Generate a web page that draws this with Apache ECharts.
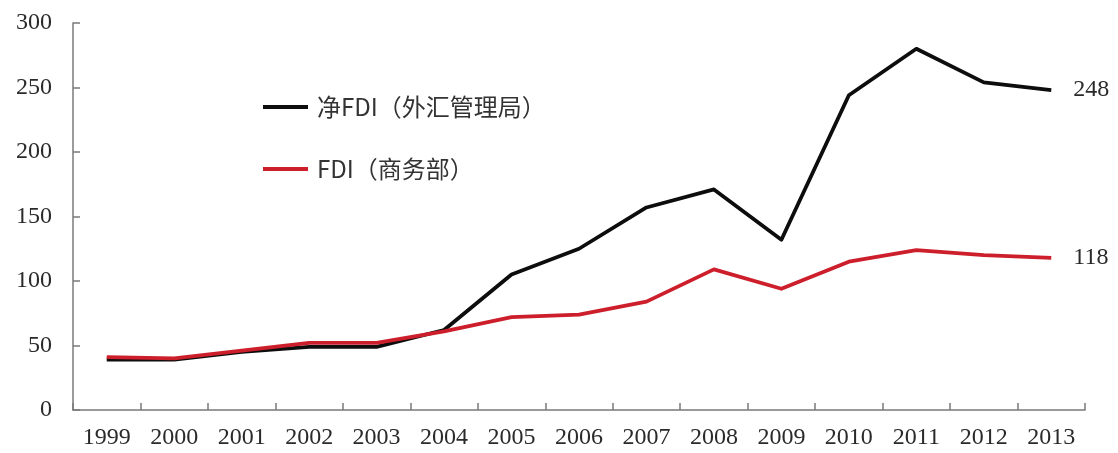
<!DOCTYPE html>
<html>
<head>
<meta charset="utf-8">
<script src="https://cdn.jsdelivr.net/npm/echarts@6/dist/echarts.min.js"></script>
<style>
  html, body { margin: 0; padding: 0; background: #ffffff; }
  #chart { width: 1118px; height: 453px; }
</style>
</head>
<body>
<div id="chart"></div>
<script>
// Years on the category axis
const years = ['1999', '2000', '2001', '2002', '2003', '2004', '2005', '2006',
               '2007', '2008', '2009', '2010', '2011', '2012', '2013'];

// Net FDI reported by SAFE (外汇管理局), USD bn
const netFdiSafe = [39, 39, 45, 49, 49, 62, 105, 125, 157, 171, 132, 244, 280, 254, 248];

// FDI reported by MOFCOM (商务部), USD bn
const fdiMofcom = [41, 40, 46, 52, 52, 61, 72, 74, 84, 109, 94, 115, 124, 120, 118];

// Series names shown in the legend
const seriesNames = ['净FDI（外汇管理局）', 'FDI（商务部）'];

// Value-axis range
const yMin = 0, yMax = 300, yStep = 50;

const serif = '"Liberation Serif", "DejaVu Serif", serif';
const cjk = '"Noto Sans CJK SC", "Noto Sans", sans-serif';
const textColor = '#2a2a2a';
const axisColor = '#7a7a7a';

const chart = echarts.init(document.getElementById('chart'), null, { renderer: 'canvas' });

const endLabel = {
  show: true,
  formatter: '{c}',
  fontFamily: serif,
  fontSize: 24,
  color: textColor,
  distance: 22
};

chart.setOption({
  backgroundColor: '#ffffff',
  animation: false,
  grid: { left: 73, right: 33, top: 23, bottom: 43, containLabel: false },
  legend: {
    orient: 'vertical',
    left: 258,
    top: 90,
    itemGap: 38,
    itemWidth: 45,
    itemHeight: 4,
    icon: 'rect',
    textStyle: { fontFamily: cjk, fontSize: 24, color: '#333333', padding: [0, 0, 0, 4] },
    data: seriesNames
  },
  xAxis: {
    type: 'category',
    data: years,
    boundaryGap: true,
    axisLine: { lineStyle: { color: axisColor, width: 1.5 } },
    axisTick: { show: true, inside: true, length: 7,
                lineStyle: { color: axisColor, width: 1.5 } },
    axisLabel: { fontFamily: serif, fontSize: 24, color: textColor, margin: 16 },
    splitLine: { show: false }
  },
  yAxis: {
    type: 'value',
    min: yMin,
    max: yMax,
    interval: yStep,
    axisLine: { show: true, lineStyle: { color: axisColor, width: 1.5 } },
    axisTick: { show: true, inside: true, length: 7, lineStyle: { color: axisColor, width: 1.5 } },
    axisLabel: { fontFamily: serif, fontSize: 24, color: textColor, margin: 21 },
    splitLine: { show: false }
  },
  series: [
    {
      name: seriesNames[0],
      type: 'line',
      data: netFdiSafe,
      symbol: 'none',
      color: '#0d0d0d',
      lineStyle: { color: '#0d0d0d', width: 3.8, join: 'round' },
      z: 2,
      endLabel: endLabel
    },
    {
      name: seriesNames[1],
      type: 'line',
      data: fdiMofcom,
      symbol: 'none',
      color: '#cc1f2b',
      lineStyle: { color: '#cc1f2b', width: 3.8, join: 'round' },
      z: 3,
      endLabel: endLabel
    }
  ]
});
</script>
</body>
</html>
